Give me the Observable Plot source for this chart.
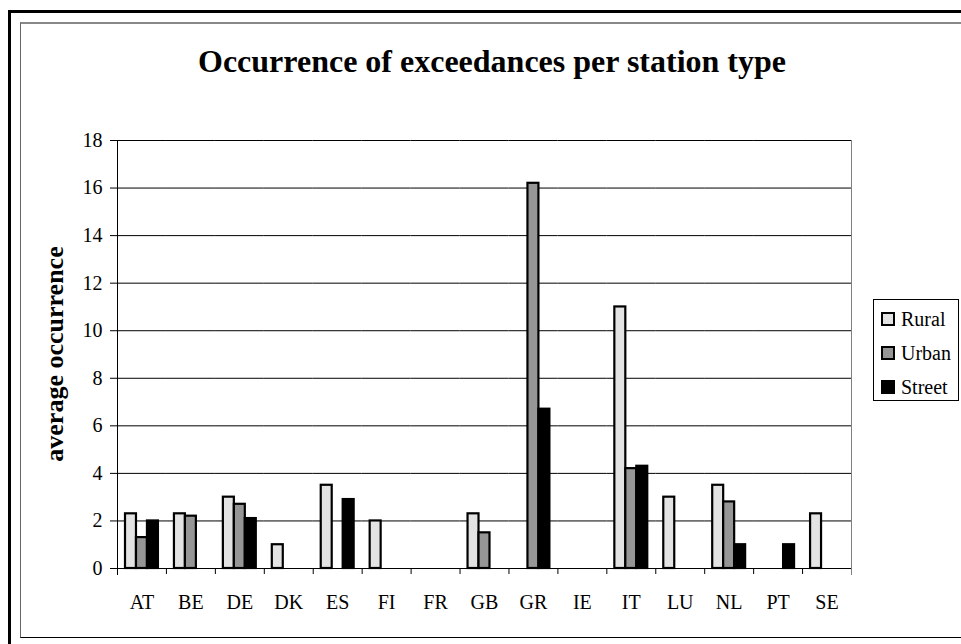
<!DOCTYPE html>
<html>
<head>
<meta charset="utf-8">
<script src="https://cdn.jsdelivr.net/npm/d3@7"></script>
<script src="https://cdn.jsdelivr.net/npm/@observablehq/plot@0.6"></script>
<style>
  html, body { margin: 0; padding: 0; background: #fff; }
  #page { position: relative; width: 961px; height: 644px; overflow: hidden; background: #fff;
          font-family: "Liberation Serif", "Times New Roman", serif; color: #000; }
  #outer { position: absolute; left: 8px; top: 10px; width: 1000px; height: 700px;
           border-left: 3px solid #000; border-top: 3px solid #000; box-sizing: border-box; }
  #inner { position: absolute; left: 20px; top: 22px; width: 1000px; height: 616px;
           border-left: 1px solid #666; border-top: 2px solid #888; border-bottom: 1px solid #000; box-sizing: border-box; }
  #title { position: absolute; left: 492px; top: 77px; transform: translate(-50%, -100%);
           font-weight: bold; font-size: 32px; line-height: 1; white-space: nowrap; }
  #ylabel { position: absolute; left: 55px; top: 354px; transform: translate(-50%, -50%) rotate(-90deg);
            font-weight: bold; font-size: 26px; white-space: nowrap; line-height: 1; }
  #chart { position: absolute; left: 0; top: 0; }
  #legend { position: absolute; left: 873px; top: 299px; width: 86px; height: 102px; box-sizing: border-box;
            border: 1px solid #000; background: #fff; font-size: 20px; }
  .item { position: absolute; left: 7px; height: 22px; display: flex; align-items: center; }
  .sw { width: 10px; height: 10px; border: 2px solid #000; margin-right: 6px; }
</style>
</head>
<body>
<div id="page">
  <div id="outer"></div>
  <div id="inner"></div>
  <div id="chart"></div>
  <div id="title">Occurrence of exceedances per station type</div>
  <div id="ylabel">average occurrence</div>
  <div id="legend"></div>
</div>
<script>
const countries = ["AT","BE","DE","DK","ES","FI","FR","GB","GR","IE","IT","LU","NL","PT","SE"];
const types = ["Rural","Urban","Street"];
const typeColors = ["#e3e3e3","#969696","#000000"];
const rural  = [2.3, 2.3, 3.0, 1.0, 3.5, 2.0, 0, 2.3, 0,    0, 11.0, 3.0, 3.5, 0,   2.3];
const urban  = [1.3, 2.2, 2.7, 0,   0,   0,   0, 1.5, 16.2, 0, 4.2,  0,   2.8, 0,   0];
const street = [2.0, 0,   2.1, 0,   2.9, 0,   0, 0,   6.7,  0, 4.3,  0,   1.0, 1.0, 0];
const yTicks = [0, 2, 4, 6, 8, 10, 12, 14, 16, 18];

const series = [rural, urban, street];
const data = countries.flatMap((c, i) =>
  types.map((t, j) => ({country: c, type: t, value: series[j][i]}))
).filter(d => d.value > 0);

const W = 961, H = 644, mL = 117, mR = 110, mT = 140, mB = 76;
const fxHalf = (W - mL - mR) / countries.length / 2;

const chart = Plot.plot({
  width: W, height: H,
  marginLeft: mL, marginRight: mR, marginTop: mT, marginBottom: mB,
  style: {fontFamily: "'Liberation Serif', 'Times New Roman', serif", fontSize: "20px", background: "transparent", overflow: "visible", color: "#000"},
  fx: {domain: countries, padding: 0, round: false, label: null},
  x: {domain: types, paddingInner: 0, paddingOuter: 0.729, round: false, axis: null},
  y: {domain: [0, 18], label: null},
  color: {domain: types, range: typeColors},
  marks: [
    Plot.gridY(yTicks, {stroke: "#000", strokeOpacity: 1}),
    Plot.frame({anchor: "right", facetAnchor: "right", stroke: "#808080", insetBottom: -6}),
    Plot.frame({anchor: "left", facetAnchor: "left", stroke: "#000", insetBottom: -6}),
    Plot.ruleY(countries, {fx: d => d, y: 0, stroke: "#000"}),
    Plot.barY(data, {fx: "country", x: "type", y: "value", fill: "type", stroke: "#000", strokeWidth: 2.2}),
    Plot.axisY(yTicks, {tickSize: 7, tickPadding: 8, label: null, tickFormat: d => String(d)}),
    Plot.axisFx({anchor: "bottom", tickSize: 0, tickPadding: 26, label: null}),
    Plot.axisFx({anchor: "bottom", tickSize: 6, tickFormat: () => "", dx: -fxHalf, label: null})
  ]
});
document.getElementById("chart").appendChild(chart);

const legend = document.getElementById("legend");
types.forEach((t, i) => {
  const it = document.createElement("div");
  it.className = "item";
  it.style.top = (8 + i * 34) + "px";
  const sw = document.createElement("span");
  sw.className = "sw";
  sw.style.background = typeColors[i];
  const lab = document.createElement("span");
  lab.textContent = t;
  it.appendChild(sw); it.appendChild(lab);
  legend.appendChild(it);
});
</script>
</body>
</html>
